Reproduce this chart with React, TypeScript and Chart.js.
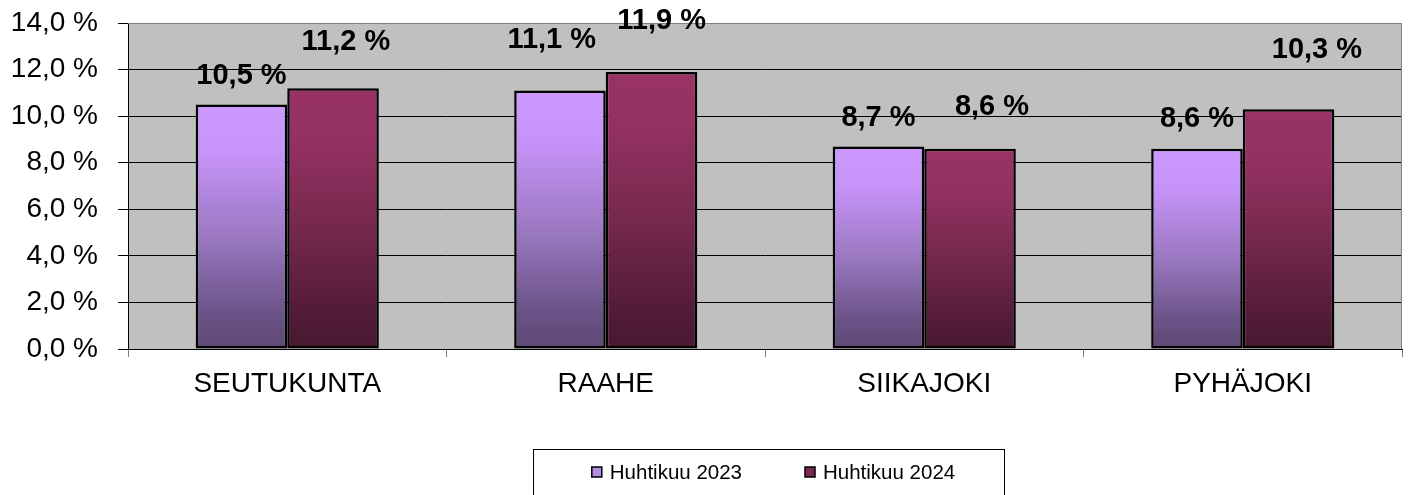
import { useEffect, useRef } from "react";
import { Chart, registerables } from "chart.js";

Chart.register(...registerables);

const categories = ["SEUTUKUNTA", "RAAHE", "SIIKAJOKI", "PYHÄJOKI"];
const seriesNames = ["Huhtikuu 2023", "Huhtikuu 2024"];
const values2023 = [10.5, 11.1, 8.7, 8.6];
const values2024 = [11.2, 11.9, 8.6, 10.3];
// label centres, in axis units, and sideways shift as a share of a bar's width
const labelLevel2023 = [11.72, 13.27, 9.94, 9.88];
const labelLevel2024 = [13.2, 14.08, 10.41, 12.84];
const labelShift2023 = [0, -0.09, 0, 0];
const labelShift2024 = [0.14, 0.11, 0.24, 0.31];
const yTicks = [0, 2, 4, 6, 8, 10, 12, 14];

const FONT = '"Liberation Sans", Arial, Helvetica, sans-serif';
const fmt = (v: number) => v.toFixed(1).replace(".", ",") + " %";

const gradStops: any[] = [
  [
    [0, "#cc99ff"],
    [0.2, "#c693f8"],
    [0.55, "#9a78c0"],
    [0.85, "#6b5388"],
    [1, "#5e4874"],
  ],
  [
    [0, "#993366"],
    [0.2, "#943162"],
    [0.55, "#74284c"],
    [0.85, "#541c38"],
    [1, "#481830"],
  ],
];

function barFill(series: number) {
  return (ctx: any) => {
    const chart = ctx.chart;
    const y = chart.scales?.y;
    const fallback = gradStops[series][0][1];
    if (!y || ctx.type !== "data" || !ctx.parsed) return fallback;
    const top = y.getPixelForValue(ctx.parsed.y);
    const base = y.getPixelForValue(0);
    if (!isFinite(top) || !isFinite(base) || Math.abs(base - top) < 1) return fallback;
    const g = chart.ctx.createLinearGradient(0, top, 0, base);
    gradStops[series].forEach(([o, c]: any) => g.addColorStop(o, c));
    return g;
  };
}

const plotPlugin = {
  id: "plotDecor",
  beforeDraw(chart: any) {
    const { ctx, chartArea: a } = chart;
    ctx.save();
    ctx.fillStyle = "#c0c0c0";
    ctx.fillRect(a.left, a.top, a.right - a.left, a.bottom - a.top);
    ctx.restore();
  },
  afterDatasetsDraw(chart: any) {
    const { ctx, chartArea: a } = chart;
    ctx.save();
    ctx.strokeStyle = "#808080";
    ctx.lineWidth = 1;
    ctx.beginPath();
    ctx.moveTo(a.left, a.top + 0.5);
    ctx.lineTo(a.right - 0.5, a.top + 0.5);
    ctx.lineTo(a.right - 0.5, a.bottom);
    ctx.stroke();

    const levels = [labelLevel2023, labelLevel2024];
    const shifts = [labelShift2023, labelShift2024];
    ctx.font = "bold 29px " + FONT;
    ctx.fillStyle = "#000";
    ctx.textAlign = "center";
    ctx.textBaseline = "middle";
    chart.data.datasets.forEach((ds: any, di: number) => {
      const meta = chart.getDatasetMeta(di);
      meta.data.forEach((bar: any, i: number) => {
        const x = bar.x + shifts[di][i] * bar.width;
        const y = chart.scales.y.getPixelForValue(levels[di][i]);
        ctx.fillText(fmt(ds.data[i]), x, y);
      });
    });
    ctx.restore();
  },
  afterDraw(chart: any) {
    const { ctx, chartArea: a } = chart;
    ctx.save();
    const mid = (a.left + a.right) / 2;
    const boxW = 471;
    const boxTop = 449;
    ctx.strokeStyle = "#000";
    ctx.lineWidth = 1;
    ctx.strokeRect(Math.round(mid - 232) + 0.5, boxTop + 0.5, boxW, 80);

    ctx.font = "20.5px " + FONT;
    const mk = 10;
    const gap = 8;
    const itemGap = 63;
    const widths = seriesNames.map((n) => mk + gap + ctx.measureText(n).width);
    const total = widths.reduce((s, w) => s + w, 0) + itemGap;
    let x = mid + 8.5 - total / 2;
    const cy = 472;
    const mColors = ["#b48ee6", "#7c2852"];
    seriesNames.forEach((n, i) => {
      ctx.fillStyle = mColors[i];
      ctx.fillRect(x, cy - mk / 2, mk, mk);
      ctx.strokeStyle = "#000";
      ctx.lineWidth = 1.5;
      ctx.strokeRect(x, cy - mk / 2, mk, mk);
      ctx.fillStyle = "#000";
      ctx.textAlign = "left";
      ctx.textBaseline = "middle";
      ctx.fillText(n, x + mk + gap, cy + 1);
      x += widths[i] + itemGap;
    });
    ctx.restore();
  },
};

export default function App() {
  const ref = useRef<HTMLCanvasElement | null>(null);
  useEffect(() => {
    if (!ref.current) return;
    const chart = new Chart(ref.current, {
      type: "bar",
      data: {
        labels: categories,
        datasets: [
          {
            label: seriesNames[0],
            data: values2023,
            backgroundColor: barFill(0),
            borderColor: "#000",
            borderWidth: 2.5,
            borderSkipped: false,
            categoryPercentage: 0.575,
            barPercentage: 1,
          },
          {
            label: seriesNames[1],
            data: values2024,
            backgroundColor: barFill(1),
            borderColor: "#000",
            borderWidth: 2.5,
            borderSkipped: false,
            categoryPercentage: 0.575,
            barPercentage: 1,
          },
        ],
      },
      options: {
        animation: false,
        responsive: false,
        devicePixelRatio: 1,
        layout: { padding: { top: 23, right: 6, left: 0, bottom: 0 } },
        plugins: {
          legend: { display: false },
          tooltip: { enabled: false },
        },
        scales: {
          x: {
            afterFit: (s: any) => {
              s.height = 146;
              s.paddingLeft = 0;
              s.paddingRight = 0;
            },
            grid: {
              drawOnChartArea: false,
              drawTicks: true,
              tickLength: 8,
              color: "#808080",
              offset: true,
            },
            border: { color: "#000", width: 1 },
            ticks: {
              color: "#000",
              padding: 10,
              font: { family: FONT, size: 28 },
            },
          },
          y: {
            min: yTicks[0],
            max: yTicks[yTicks.length - 1],
            afterFit: (s: any) => {
              s.width = 128;
              s.paddingTop = 0;
              s.paddingBottom = 0;
            },
            afterBuildTicks: (s: any) => {
              s.ticks = yTicks.map((v) => ({ value: v }));
            },
            grid: {
              color: (c: any) => (c.tick && c.tick.value === 14 ? "#808080" : "#000"),
              tickColor: "#000",
              tickLength: 10,
              lineWidth: 1,
            },
            border: { color: "#000", width: 1 },
            ticks: {
              color: "#000",
              padding: 20,
              font: { family: FONT, size: 28 },
              callback: (v: any) => fmt(Number(v)),
            },
          },
        },
      },
      plugins: [plotPlugin],
    });
    return () => chart.destroy();
  }, []);
  return (
    <div style={{ position: "absolute", left: 0, top: 0, width: 1408, height: 495, background: "#fff" }}>
      <canvas ref={ref} width={1408} height={495} style={{ width: 1408, height: 495, display: "block" }} />
    </div>
  );
}
